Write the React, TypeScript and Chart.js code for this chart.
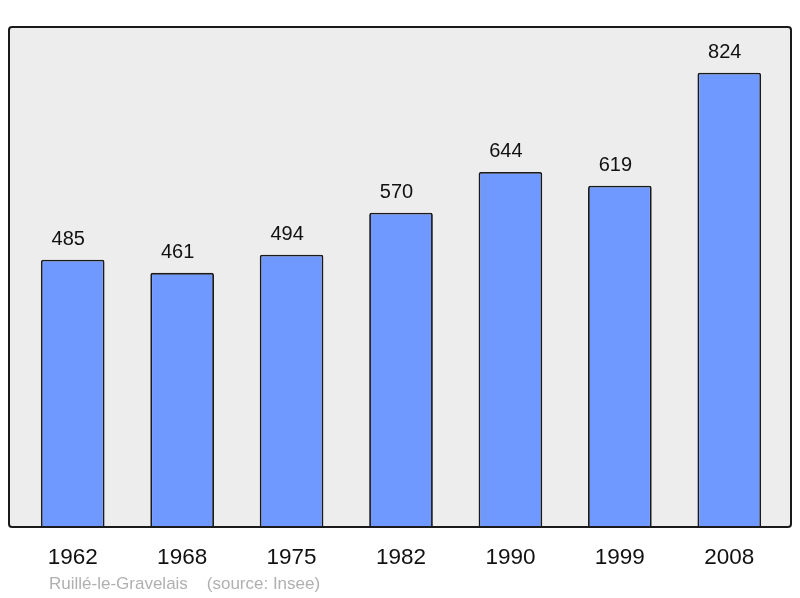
import React, { useEffect, useRef } from "react";
import { Chart, registerables } from "chart.js";

Chart.register(...registerables);

const years = ["1962", "1968", "1975", "1982", "1990", "1999", "2008"];
const population = [485, 461, 494, 570, 644, 619, 824];
const sourceText = "Ruillé-le-Gravelais    (source: Insee)";
const yMax = 907;

const FONT = "'Liberation Sans', Arial, sans-serif";

const framePlugin = {
  id: "frame",
  beforeDraw(chart: any) {
    const { ctx, chartArea } = chart;
    const l = chartArea.left - 9;
    const r = chartArea.right + 7;
    const t = chartArea.top;
    const b = chartArea.bottom;
    ctx.save();
    ctx.fillStyle = "#ffffff";
    ctx.fillRect(0, 0, chart.width, chart.height);
    ctx.beginPath();
    ctx.roundRect(l, t, r - l, b - t, 3);
    ctx.fillStyle = "#ededed";
    ctx.fill();
    ctx.restore();
  },
  afterDatasetsDraw(chart: any) {
    const { ctx, chartArea } = chart;
    const l = chartArea.left - 9;
    const r = chartArea.right + 7;
    const t = chartArea.top;
    const b = chartArea.bottom;
    ctx.save();
    ctx.beginPath();
    ctx.roundRect(l, t, r - l, b - t, 3);
    ctx.lineWidth = 2;
    ctx.strokeStyle = "#1a1a1a";
    ctx.stroke();

    // value labels
    const meta = chart.getDatasetMeta(0);
    ctx.fillStyle = "#111111";
    ctx.font = `20px ${FONT}`;
    ctx.textAlign = "center";
    ctx.textBaseline = "middle";
    meta.data.forEach((bar: any, i: number) => {
      ctx.fillText(String(population[i]), bar.x - 4.5, bar.y - 20);
    });

    // source text
    ctx.fillStyle = "#b0b0b0";
    ctx.font = `17px ${FONT}`;
    ctx.textAlign = "left";
    ctx.fillText(sourceText, l + 40, chart.height - 14);
    ctx.restore();
  },
};

export default function App() {
  const ref = useRef<HTMLCanvasElement>(null);
  useEffect(() => {
    document.body.style.margin = "0";
    const chart = new Chart(ref.current!, {
      type: "bar",
      data: {
        labels: years,
        datasets: [
          {
            data: population,
            backgroundColor: "#7099ff",
            borderColor: "#1a1a1a",
            borderWidth: 1.8,
            borderRadius: 2,
            borderSkipped: "bottom",
            categoryPercentage: 1,
            barPercentage: 0.582,
          },
        ],
      },
      options: {
        animation: false,
        responsive: false,
        layout: { padding: { top: 27, left: 18, right: 16, bottom: 10 } },
        plugins: { legend: { display: false }, tooltip: { enabled: false } },
        scales: {
          x: {
            grid: { display: false, drawTicks: false },
            border: { display: false },
            ticks: { color: "#111111", font: { size: 22.5, family: FONT }, padding: 17 },
          },
          y: { display: false, min: 0, max: yMax },
        },
      },
      plugins: [framePlugin],
    });
    return () => chart.destroy();
  }, []);
  return <canvas ref={ref} width={800} height={598} style={{ display: "block" }} />;
}
